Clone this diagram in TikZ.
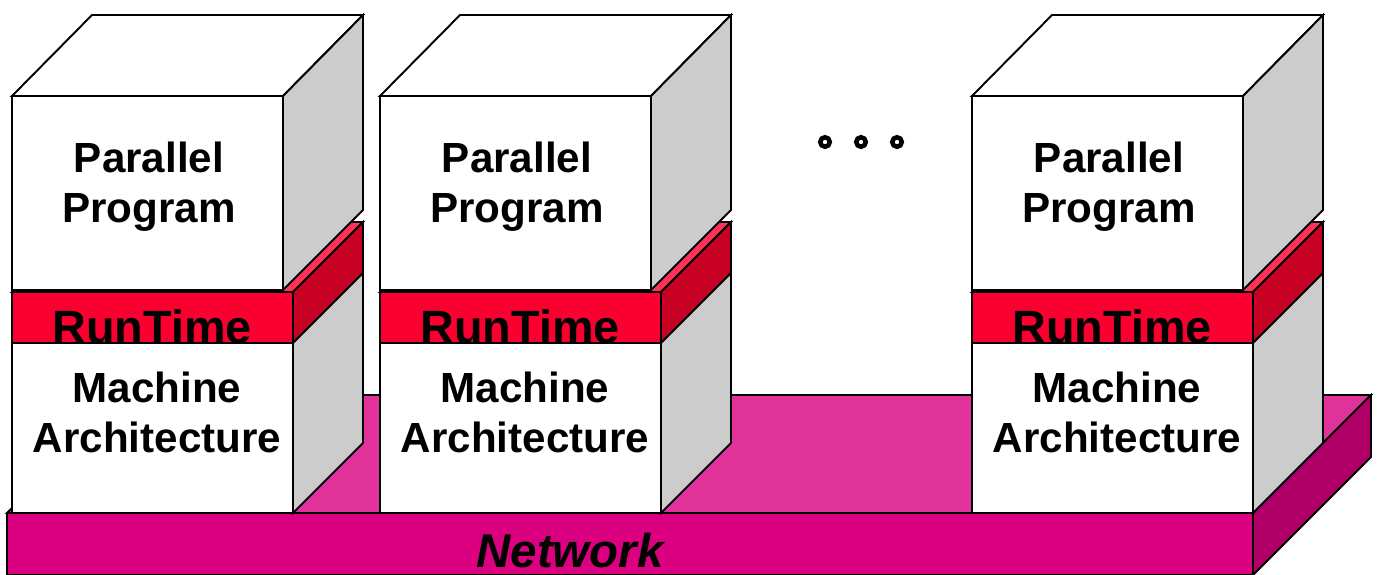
\documentclass[tikz,border=0pt]{standalone}
\usepackage{fontspec}
\setmainfont{Liberation Sans}
\definecolor{sidegray}{HTML}{CCCCCC}
\definecolor{rtfront}{HTML}{FA0030}
\definecolor{rttop}{HTML}{FF3355}
\definecolor{rtside}{HTML}{C80024}
\definecolor{netfront}{HTML}{DA007F}
\definecolor{nettop}{HTML}{E0339A}
\definecolor{netside}{HTML}{B00068}
\begin{document}
\begin{tikzpicture}[x=0.02cm,y=-0.02cm,line width=1.1pt,
  boxtext/.style={font=\fontsize{24}{28.45}\selectfont\bfseries,align=center},
  bigtext/.style={font=\fontsize{26.6}{32}\selectfont\bfseries,anchor=base}]
\useasboundingbox (0,0) rectangle (1377,575);
% network slab
\filldraw[fill=nettop] (7,513) -- (125,395) -- (1371,395) -- (1253,513) -- cycle;
\filldraw[fill=netside] (1253,513) -- (1371,395) -- (1371,457) -- (1253,575) -- cycle;
\filldraw[fill=netfront] (7,513) rectangle (1253,575);
\node[bigtext,font=\fontsize{27}{32}\selectfont\bfseries\itshape] (net) at (570,567) {Network};
% one stack per machine
\foreach \x/\n in {12/a,380/b,972/c} {
  % runtime
  \filldraw[fill=rttop] (\x,292) -- (\x+70,222) -- (\x+351,222) -- (\x+281,292) -- cycle;
  \filldraw[fill=rtside] (\x+281,292) -- (\x+351,222) -- (\x+351,273) -- (\x+281,343) -- cycle;
  \filldraw[fill=rtfront] (\x,292) rectangle (\x+281,343);
  \node[bigtext] (rt\n) at (\x+140,343) {RunTime};
  % parallel program
  \filldraw[fill=white] (\x,96) -- (\x+80,15) -- (\x+351,15) -- (\x+271,96) -- cycle;
  \filldraw[fill=sidegray] (\x+271,96) -- (\x+351,15) -- (\x+351,210) -- (\x+271,290) -- cycle;
  \filldraw[fill=white] (\x,96) rectangle (\x+271,290);
  \node[boxtext] (pp\n) at (\x+137,187) {Parallel\\Program};
  % machine architecture
  \filldraw[fill=sidegray] (\x+281,343) -- (\x+351,273) -- (\x+351,443) -- (\x+281,513) -- cycle;
  \filldraw[fill=white] (\x,343) rectangle (\x+281,513);
  \node[boxtext] (ma\n) at (\x+145,412) {Machine\\Architecture};
}
% dots
\foreach \d in {825,861,897}
  \draw[line width=2.6pt] (\d,142) circle[radius=0.095cm];
\end{tikzpicture}
\end{document}
